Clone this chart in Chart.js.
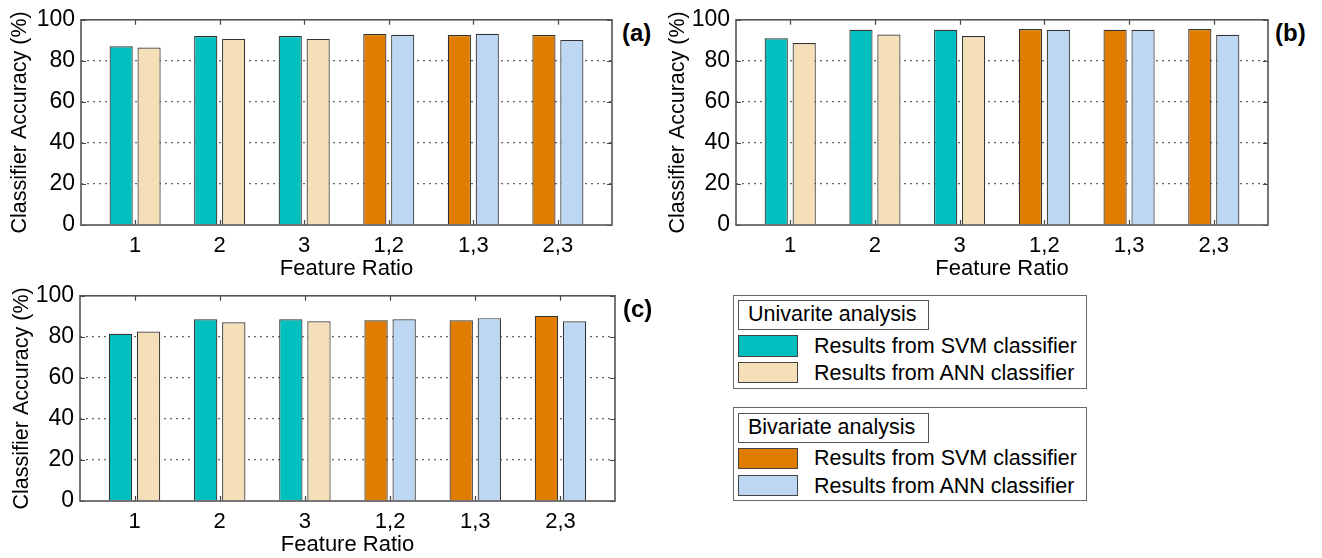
<!DOCTYPE html>
<html>
<head>
<meta charset="utf-8">
<script src="https://cdn.jsdelivr.net/npm/chart.js@4.4.1/dist/chart.umd.min.js"></script>
<style>
  html, body { margin:0; padding:0; background:#fff; }
  body { width:1322px; height:558px; position:relative; overflow:hidden; font-family:'Liberation Sans', Arial, sans-serif; }
  .cv { position:absolute; }
  .plab { position:absolute; font-family:'Liberation Sans',Arial,sans-serif; font-weight:bold; font-size:24px; line-height:24px; color:#000; }
  .lbox { position:absolute; box-sizing:border-box; border:1.5px solid #666; }
  .ltitle { position:absolute; box-sizing:border-box; border:1.5px solid #555; font-size:21.5px; line-height:27px; padding-left:9px; color:#000; }
  .sw { position:absolute; box-sizing:border-box; border:1.5px solid #444; }
  .ltext { position:absolute; font-size:21.5px; line-height:24px; color:#000; white-space:nowrap; }
</style>
</head>
<body>
<canvas id="ca" class="cv" style="left:0px;top:0px;" width="620" height="280"></canvas>
<canvas id="cb" class="cv" style="left:656px;top:0px;" width="616" height="280"></canvas>
<canvas id="cc" class="cv" style="left:0px;top:276px;" width="620" height="282"></canvas>

<div class="plab" style="left:622px;top:21px;">(a)</div>
<div class="plab" style="left:1275px;top:21px;">(b)</div>
<div class="plab" style="left:623px;top:297px;">(c)</div>

<div class="lbox" style="left:733px;top:295px;width:354px;height:94px;"></div>
<div class="ltitle" style="left:738px;top:300px;width:191px;height:30px;">Univarite analysis</div>
<div class="sw" id="sw1" style="left:738px;top:335px;width:60px;height:22px;"></div>
<div class="sw" id="sw2" style="left:738px;top:362px;width:60px;height:21px;"></div>
<div class="ltext" style="left:814px;top:334px;">Results from SVM classifier</div>
<div class="ltext" style="left:814px;top:361px;">Results from ANN classifier</div>

<div class="lbox" style="left:733px;top:407px;width:354px;height:94px;"></div>
<div class="ltitle" style="left:738px;top:413px;width:191px;height:30px;">Bivariate analysis</div>
<div class="sw" id="sw3" style="left:738px;top:448px;width:60px;height:21px;"></div>
<div class="sw" id="sw4" style="left:738px;top:475px;width:60px;height:21px;"></div>
<div class="ltext" style="left:814px;top:446px;">Results from SVM classifier</div>
<div class="ltext" style="left:814px;top:474px;">Results from ANN classifier</div>

<script>
// ---------------- data ----------------
const featureRatios = ['1', '2', '3', '1,2', '1,3', '2,3'];
const analysisType = ['uni', 'uni', 'uni', 'bi', 'bi', 'bi'];
const yTicks = [0, 20, 40, 60, 80, 100];

const svmA = [87.1, 92.1, 92.1, 93.1, 92.6, 92.6];
const annA = [86.5, 90.7, 90.7, 92.7, 93.2, 90.2];

const svmB = [91.0, 95.1, 95.1, 95.5, 95.1, 95.5];
const annB = [88.7, 92.8, 92.1, 95.1, 95.1, 92.7];

const svmC = [81.5, 88.6, 88.6, 88.1, 88.1, 90.2];
const annC = [82.6, 87.1, 87.6, 88.6, 89.1, 87.6];

const legendLabels = ['Results from SVM classifier', 'Results from ANN classifier'];

// ---------------- style ----------------
const COLORS = {
  uni: { svm: '#00BFBF', ann: '#F5DFB9' },
  bi:  { svm: '#E07C00', ann: '#BDD7F3' }
};
document.getElementById('sw1').style.background = COLORS.uni.svm;
document.getElementById('sw2').style.background = COLORS.uni.ann;
document.getElementById('sw3').style.background = COLORS.bi.svm;
document.getElementById('sw4').style.background = COLORS.bi.ann;

const REG = "'Liberation Sans',Arial,sans-serif";

const boxPlugin = {
  id: 'matlabBox',
  afterDatasetsDraw(chart) {
    const { ctx, chartArea: a, scales: { x, y } } = chart;
    ctx.save();
    ctx.strokeStyle = '#444';
    ctx.lineWidth = 1.2;
    ctx.beginPath();
    x.ticks.forEach(t => {
      const px = Math.round(x.getPixelForValue(t.value)) + 0.5;
      ctx.moveTo(px, a.bottom); ctx.lineTo(px, a.bottom - 5);
      ctx.moveTo(px, a.top); ctx.lineTo(px, a.top + 5);
    });
    y.ticks.forEach(t => {
      const py = Math.round(y.getPixelForValue(t.value)) + 0.5;
      ctx.moveTo(a.left, py); ctx.lineTo(a.left + 5, py);
      ctx.moveTo(a.right, py); ctx.lineTo(a.right - 5, py);
    });
    ctx.stroke();
    ctx.strokeStyle = '#555';
    ctx.lineWidth = 1.6;
    ctx.strokeRect(a.left, a.top, a.right - a.left, a.bottom - a.top);
    ctx.restore();
  }
};

function makePanel(id, svm, ann, geo) {
  const mk = (vals) => vals.map((v, i) => ({ x: i + 1, y: v }));
  new Chart(document.getElementById(id), {
    type: 'bar',
    data: {
      datasets: [
        {
          label: legendLabels[0],
          data: mk(svm),
          backgroundColor: analysisType.map(t => COLORS[t].svm),
          borderColor: '#333', borderWidth: 1.2,
          categoryPercentage: 0.66, barPercentage: 0.83
        },
        {
          label: legendLabels[1],
          data: mk(ann),
          backgroundColor: analysisType.map(t => COLORS[t].ann),
          borderColor: '#333', borderWidth: 1.2,
          categoryPercentage: 0.66, barPercentage: 0.83
        }
      ]
    },
    options: {
      responsive: false,
      animation: false,
      events: [],
      layout: { padding: { top: geo.top, right: geo.right, left: 0, bottom: 0 } },
      plugins: { legend: { display: false }, tooltip: { enabled: false } },
      scales: {
        x: {
          type: 'linear',
          offset: false,
          min: 0.36, max: 6.64,
          afterBuildTicks: (s) => { s.ticks = featureRatios.map((_, i) => ({ value: i + 1 })); },
          afterFit: (s) => { s.height = geo.xh; },
          grid: { display: false, drawTicks: false },
          border: { display: false },
          ticks: {
            callback: (v) => featureRatios[v - 1],
            font: { family: REG, size: 22 },
            color: '#000',
            padding: 8,
            maxRotation: 0, autoSkip: false
          },
          title: {
            display: true, text: 'Feature Ratio',
            font: { family: REG, size: 22 },
            color: '#000',
            padding: { top: 0, bottom: geo.xtpad }
          }
        },
        y: {
          min: 0, max: 100,
          afterBuildTicks: (s) => { s.ticks = yTicks.map(v => ({ value: v })); },
          afterFit: (s) => { s.width = geo.yw; },
          grid: {
            drawTicks: false,
            color: (c) => (c.tick && (c.tick.value === 0 || c.tick.value === 100)) ? 'rgba(0,0,0,0)' : '#666',
            lineWidth: 1.2
          },
          border: { display: false, dash: [2, 4] },
          ticks: {
            font: { family: REG, size: 23 },
            color: '#000',
            padding: 6
          },
          title: {
            display: true, text: 'Classifier Accuracy (%)',
            font: { family: REG, size: 21.5 },
            color: '#000',
            padding: { top: geo.tpad, bottom: 0 }
          }
        }
      }
    },
    plugins: [boxPlugin]
  });
}

makePanel('ca', svmA, annA, { top: 19, right: 8, xh: 55, yw: 81, tpad: 7.5, xtpad: -2 });
makePanel('cb', svmB, annB, { top: 19, right: 4, xh: 55, yw: 80, tpad: 9, xtpad: -2 });
makePanel('cc', svmC, annC, { top: 19, right: 5, xh: 57, yw: 80, tpad: 9, xtpad: 0 });
</script>
</body>
</html>
